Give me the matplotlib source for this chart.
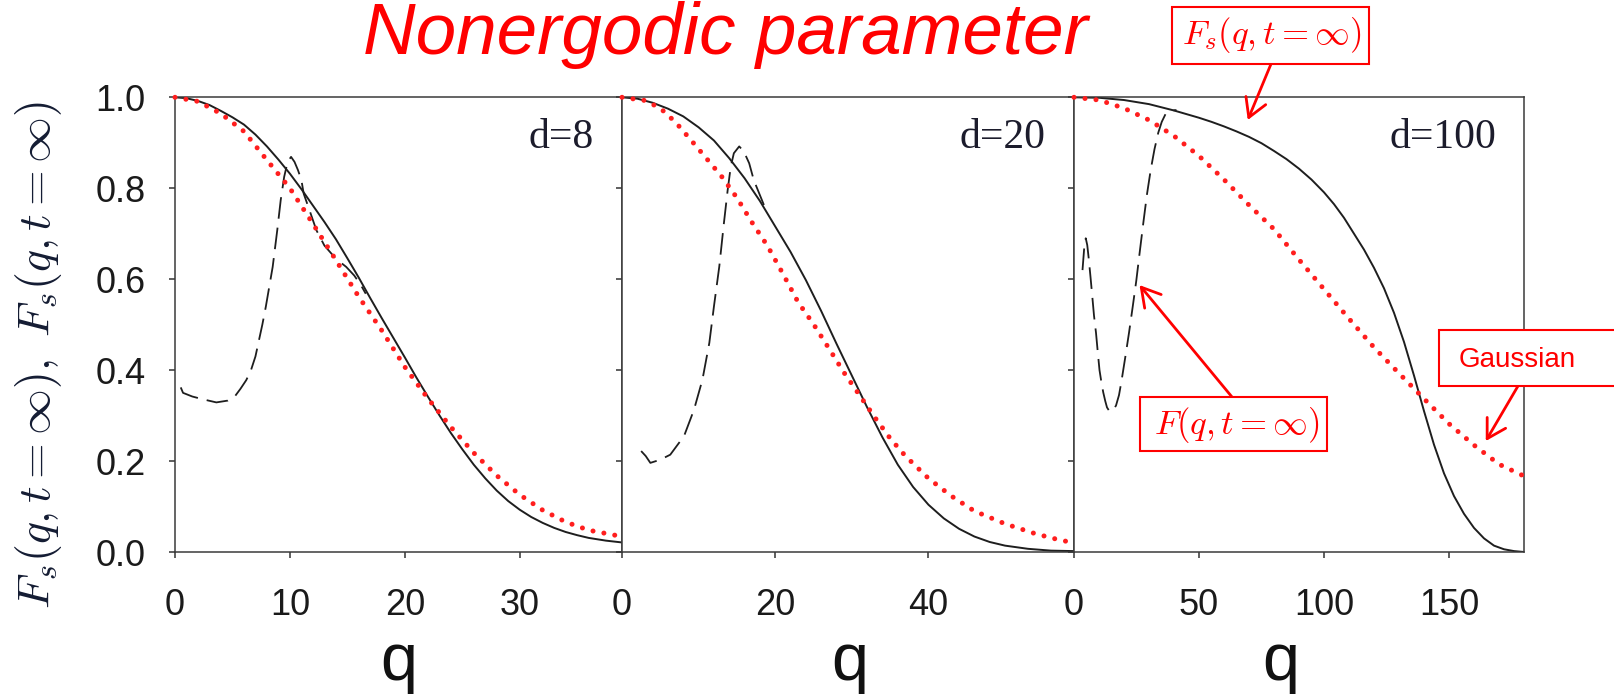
import matplotlib.pyplot as plt
from matplotlib.patches import Rectangle

# ---- d = 8 ----
q_fs_d8 = [0, 1, 2, 3, 4, 5, 6, 7, 8, 9, 10, 11, 12, 13, 14, 15, 16, 17, 18, 19, 20,
           21, 22, 23, 24, 25, 26, 27, 28, 29, 30, 31, 32, 33, 34, 35, 36, 37.5, 38.9]
fs_d8 = [1.0, 0.998, 0.992, 0.983, 0.97, 0.956, 0.94, 0.918, 0.892, 0.863, 0.832,
         0.798, 0.762, 0.726, 0.688, 0.646, 0.603, 0.558, 0.514, 0.471, 0.428, 0.384,
         0.342, 0.301, 0.262, 0.226, 0.192, 0.162, 0.135, 0.112, 0.093, 0.077, 0.064,
         0.053, 0.044, 0.037, 0.031, 0.025, 0.021]
q_gs_d8 = [0, 2, 4, 6, 8, 10, 12, 14, 16, 18, 20, 22, 24, 26, 28, 30, 32, 34, 36, 38.9]
gs_d8 = [1.0, 0.991, 0.964, 0.925, 0.862, 0.80, 0.722, 0.642, 0.561, 0.487, 0.407,
         0.338, 0.275, 0.218, 0.168, 0.126, 0.092, 0.066, 0.048, 0.034]
q_f_d8 = [0.5, 0.7, 1.5, 2.4, 3.6, 4.6, 5.2, 5.7, 6.2, 6.6, 7.0, 7.3, 7.6, 7.9, 8.2,
          8.5, 8.9, 9.2, 9.5, 9.8, 10.1, 10.4, 10.7, 11.0, 11.2, 11.7, 12.3, 13.0,
          14.0, 14.9, 15.6, 16.2, 16.6]
f_d8 = [0.362, 0.35, 0.342, 0.336, 0.329, 0.333, 0.342, 0.359, 0.378, 0.399, 0.43,
        0.465, 0.50, 0.539, 0.583, 0.627, 0.708, 0.774, 0.825, 0.858, 0.869, 0.858,
        0.84, 0.818, 0.788, 0.752, 0.708, 0.674, 0.645, 0.627, 0.608, 0.586, 0.568]

# ---- d = 20 ----
q_fs_d20 = [0, 2, 4, 6, 8, 10, 12, 14, 16, 18, 20, 22, 24, 26, 28, 30, 32, 34, 36, 38,
            40, 42, 44, 46, 48, 50, 53, 56, 59]
fs_d20 = [1.0, 0.997, 0.988, 0.975, 0.958, 0.934, 0.905, 0.866, 0.822, 0.772, 0.716,
          0.66, 0.598, 0.53, 0.458, 0.388, 0.318, 0.252, 0.192, 0.143, 0.104, 0.074,
          0.051, 0.034, 0.022, 0.014, 0.007, 0.003, 0.002]
q_gs_d20 = [0, 3, 5, 7, 9, 11, 13, 15, 17, 19, 21, 23, 25, 27, 29, 31, 33, 35, 37, 40,
            43, 46, 50, 54, 57, 59]
gs_d20 = [1.0, 0.993, 0.976, 0.945, 0.906, 0.866, 0.826, 0.779, 0.724, 0.673, 0.612,
          0.549, 0.501, 0.448, 0.394, 0.345, 0.296, 0.25, 0.211, 0.162, 0.123, 0.09,
          0.062, 0.04, 0.027, 0.02]
q_f_d20 = [2.5, 3.1, 3.7, 5.0, 6.3, 8.1, 9.4, 10.5, 11.4, 12.0, 12.7, 13.3, 13.8,
           14.2, 14.6, 15.3, 15.9, 16.6, 17.2, 17.9, 18.6]
f_d20 = [0.222, 0.211, 0.196, 0.203, 0.214, 0.255, 0.313, 0.379, 0.46, 0.54, 0.628,
         0.723, 0.797, 0.848, 0.877, 0.892, 0.881, 0.855, 0.818, 0.789, 0.76]

# ---- d = 100 ----
q_fs_d100 = [0, 10, 20, 30, 40, 50, 55, 60, 65, 70, 75, 80, 85, 90, 95, 100, 104, 108,
             112, 116, 120, 124, 128, 132, 136, 140, 144, 148, 152, 156, 160, 164, 168,
             172, 176, 180]
fs_d100 = [1.0, 0.999, 0.994, 0.985, 0.971, 0.955, 0.946, 0.936, 0.925, 0.913, 0.899,
           0.882, 0.864, 0.843, 0.819, 0.791, 0.765, 0.735, 0.70, 0.665, 0.625, 0.58,
           0.526, 0.462, 0.388, 0.31, 0.236, 0.173, 0.123, 0.084, 0.053, 0.03, 0.014,
           0.006, 0.002, 0.0]
q_gs_d100 = [0, 10, 20, 30, 40, 50, 60, 70, 80, 90, 100, 110, 120, 130, 140, 150, 160,
             170, 180]
gs_d100 = [1.0, 0.994, 0.976, 0.95, 0.915, 0.871, 0.819, 0.763, 0.71, 0.643, 0.578,
           0.513, 0.45, 0.393, 0.337, 0.282, 0.235, 0.193, 0.167]
q_f_d100 = [3.4, 4.1, 4.7, 5.3, 5.9, 6.6, 7.3, 8.0, 8.8, 9.5, 10.2, 11.0, 11.7, 12.5,
            13.2, 14.0, 14.6, 15.5, 16.8, 18.0, 19.0, 20.5, 22.0, 23.5, 24.9, 26.3,
            27.8, 29.2, 30.7, 32.2, 33.7, 35.1, 36.6, 38.0, 39.5, 41.0]
f_d100 = [0.62, 0.67, 0.69, 0.675, 0.645, 0.605, 0.563, 0.52, 0.482, 0.44, 0.40, 0.372,
          0.351, 0.332, 0.318, 0.311, 0.309, 0.311, 0.322, 0.345, 0.376, 0.428, 0.482,
          0.54, 0.596, 0.66, 0.727, 0.787, 0.841, 0.886, 0.922, 0.946, 0.963, 0.968,
          0.971, 0.972]

panel_names = ["d=8", "d=20", "d=100"]
panel_xmax = [38.9, 59, 180]
panel_xticks = [[0, 10, 20, 30], [0, 20, 40], [0, 50, 100, 150]]
yticks = [0.0, 0.2, 0.4, 0.6, 0.8, 1.0]

plt.rcParams['font.family'] = ['Liberation Sans', 'DejaVu Sans']
plt.rcParams['mathtext.fontset'] = 'cm'

W, H = 1614, 695
fig = plt.figure(figsize=(W / 100, H / 100), dpi=100)

RED = '#ff0000'
DOT_RED = '#ff1e1e'
INK = '#1e1e1e'
AX_TOP, AX_BOT = 97.3, 552.0
panel_px = [(175, 622), (622, 1074), (1074, 1524)]
xlabel_x = [0.5, 0.504, 0.46]

series = [
    (q_fs_d8, fs_d8, q_gs_d8, gs_d8, q_f_d8, f_d8),
    (q_fs_d20, fs_d20, q_gs_d20, gs_d20, q_f_d20, f_d20),
    (q_fs_d100, fs_d100, q_gs_d100, gs_d100, q_f_d100, f_d100),
]

axes = []
for i, (x0, x1) in enumerate(panel_px):
    ax = fig.add_axes([x0 / W, 1 - AX_BOT / H, (x1 - x0) / W, (AX_BOT - AX_TOP) / H])
    qs, fs, qg, gs, qf, f = series[i]
    ax.plot(qs, fs, color=INK, lw=1.4, zorder=2)
    ax.plot(qf, f, color=INK, lw=1.3, ls=(0, (12, 5)), zorder=2)
    ax.plot(qg, gs, color=DOT_RED, lw=3.6, ls=(0, (0.01, 2.2)),
            dash_capstyle='round', zorder=3, clip_on=False)

    ax.set_xlim(0, panel_xmax[i])
    ax.set_ylim(0, 1.0)
    ax.set_xticks(panel_xticks[i])
    ax.set_yticks(yticks)
    if i == 0:
        ax.set_yticklabels(["%.1f" % v for v in yticks])
    else:
        ax.set_yticklabels([])
    ax.tick_params(direction='out', length=4, width=1.1, colors='#333333',
                   labelcolor='#1a1a1a', labelsize=26)
    ax.tick_params(axis='x', pad=22)
    ax.tick_params(axis='y', pad=17)
    for sp in ax.spines.values():
        sp.set_color('#3a3a3a')
        sp.set_linewidth(1.1)

    ax.text(1 - 28 / 450, 1 - 51 / 454.7, panel_names[i], transform=ax.transAxes,
            ha='right', va='baseline', family='Liberation Serif', fontsize=30,
            color='#1c1c2c')

    ax.set_xlabel('q', fontsize=48, color='#111111')
    ax.xaxis.set_label_coords(xlabel_x[i], (AX_BOT - 680) / (AX_BOT - AX_TOP))
    ax.xaxis.label.set_va('baseline')
    axes.append(ax)

fig.text(725 / W, 1 - 54 / H, 'Nonergodic parameter', fontsize=52.5, style='italic',
         color=RED, ha='center', va='baseline')

fig.text(39 / W, 1 - 355 / H, r'$F_s(q,t=\infty),\ F_s(q,t=\infty)$', rotation=90,
         ha='center', va='center', fontsize=33, color='#141c33')


def red_box(x0, y0, x1, y1):
    """white box with red edge, given in pixels from the top-left corner"""
    fig.add_artist(Rectangle((x0 / W, 1 - y1 / H), (x1 - x0) / W, (y1 - y0) / H,
                             transform=fig.transFigure, facecolor='white',
                             edgecolor=RED, lw=1.5, zorder=5, clip_on=False))


red_box(1172, 7, 1369, 64)
fig.text(1272 / W, 1 - 35 / H, r'$F_s(q,t=\infty)$', fontsize=25, color=RED,
         ha='center', va='center', zorder=6)

red_box(1140, 397, 1327, 451)
fig.text(1237 / W, 1 - 425 / H, r'$F(q,t=\infty)$', fontsize=25, color=RED,
         ha='center', va='center', zorder=6)

red_box(1439, 330, 1660, 386)
fig.text(1459 / W, 1 - 360 / H, 'Gaussian', fontsize=20, color=RED,
         ha='left', va='center', zorder=6)

arrow = dict(arrowstyle='->,head_length=0.6,head_width=0.35', color=RED, lw=2.0,
             mutation_scale=22, shrinkA=0, shrinkB=0)
ax3 = axes[2]
ax3.annotate('', xy=(69.5, 0.95), xytext=(1271, H - 64), textcoords='figure pixels',
             arrowprops=arrow, annotation_clip=False)
ax3.annotate('', xy=(26.2, 0.587), xytext=(1232, H - 397), textcoords='figure pixels',
             arrowprops=arrow, annotation_clip=False)
ax3.annotate('', xy=(164.7, 0.244), xytext=(1518, H - 386), textcoords='figure pixels',
             arrowprops=arrow, annotation_clip=False)

fig.savefig('out.png', dpi=100)
